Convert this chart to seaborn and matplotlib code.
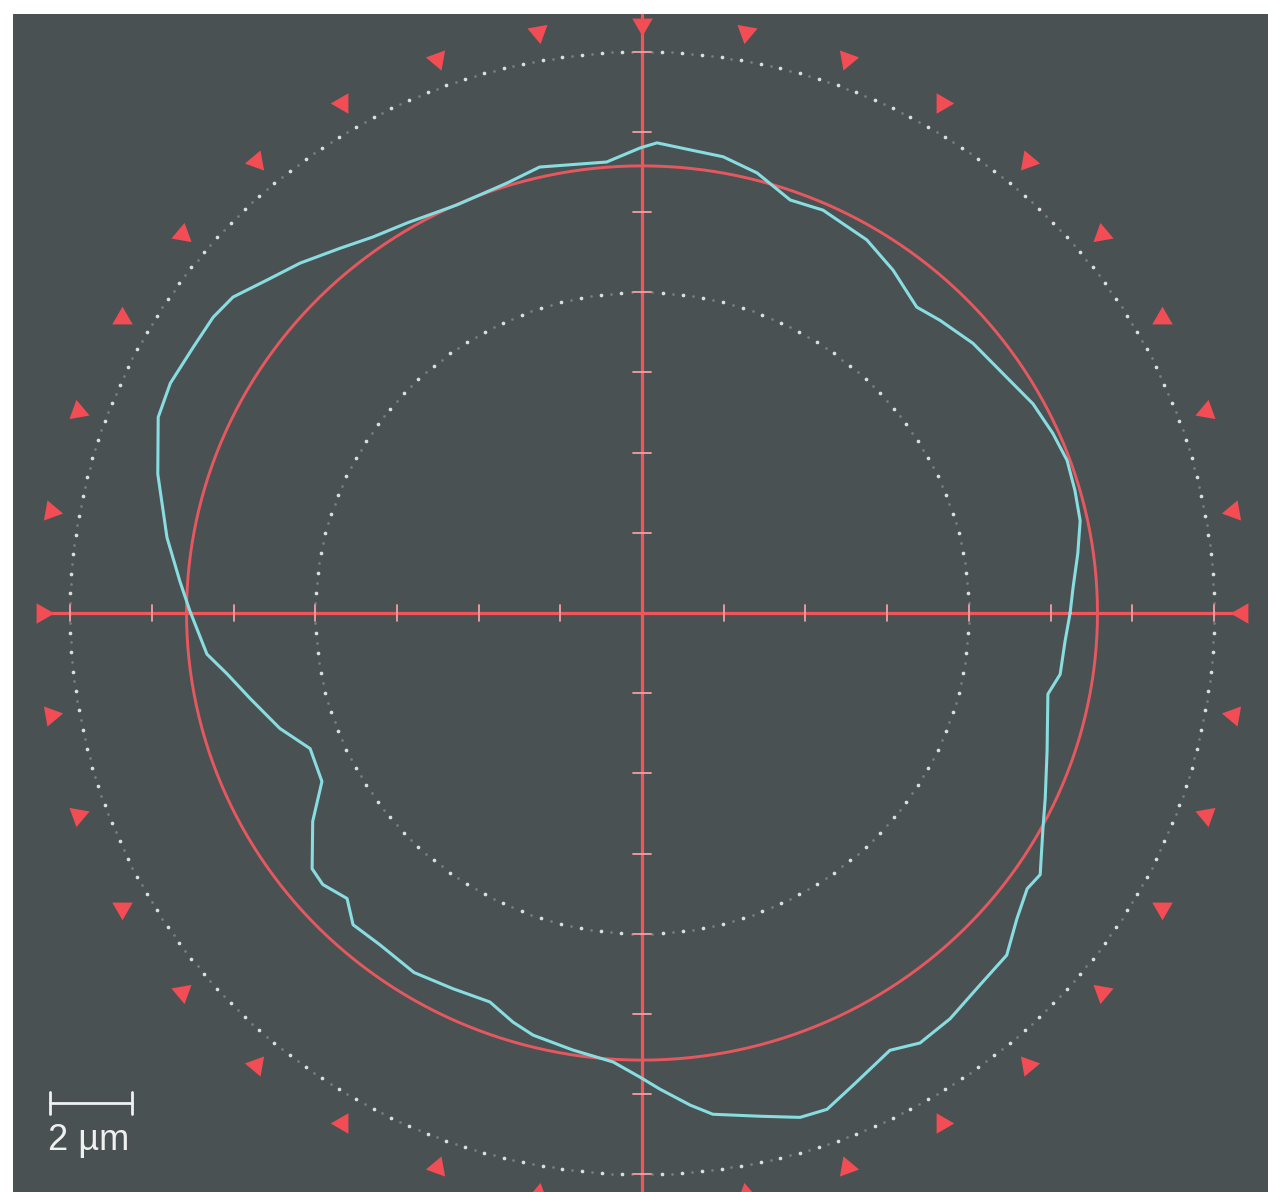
import numpy as np
import pandas as pd
import matplotlib
matplotlib.use('Agg')
import matplotlib.pyplot as plt
import seaborn as sns

sns.set_theme(style='dark')
plt.rcParams['font.family'] = ['Liberation Sans', 'DejaVu Sans']

# ---------------- data (µm, polar: angle in degrees, radius in µm) ----------------
profile_angle_deg = [0, 3.4, 7.9, 12.1, 16.1, 20.1, 24.0, 28.6, 33.3, 39.7,
                     45.0, 48.6, 54.3, 59.4, 66.2, 70.6, 75.6, 80.1, 84.2, 88.2,
                     90.2, 94.4, 102.7, 107.1, 114.0, 120.6, 125.1, 129.1, 133.8, 137.9,
                     141.8, 144.9, 148.9, 153.6, 157.6, 163.7, 170.8, 176.0, 179.7, 185.5,
                     188.5, 192.5, 198.0, 202.6, 208.2, 212.8, 218.3, 220.9, 224.6, 227.7,
                     232.2, 238.1, 243.7, 249.0, 252.8, 255.8, 261.2, 266.4, 269.8, 272.1,
                     275.5, 277.9, 283.0, 287.1, 290.1, 293.7, 299.1, 302.4, 306.7, 311.7,
                     316.3, 320.3, 323.9, 326.2, 331.3, 334.9, 340.8, 348.5, 351.5, 356.1]
profile_radius_um = [10.48, 10.57, 10.77, 10.97, 11.03, 11.08, 11.01, 10.90, 10.69, 10.53,
                     10.32, 10.17, 10.53, 10.81, 10.98, 10.92, 11.33, 11.55, 11.61, 11.73,
                     11.60, 11.28, 11.40, 11.22, 11.14, 11.30, 11.46, 11.72, 12.09, 12.38,
                     12.74, 12.83, 12.83, 12.89, 12.81, 12.35, 11.78, 11.34, 11.07, 10.70,
                     10.27, 9.83, 9.32, 8.80, 8.89, 9.59, 10.29, 10.34, 10.14, 10.51,
                     10.47, 10.56, 10.45, 10.39, 10.68, 10.86, 11.03, 11.22, 11.58, 11.88,
                     12.33, 12.62, 12.88, 13.16, 13.18, 12.86, 12.48, 12.70, 12.62, 12.43,
                     12.35, 11.93, 11.67, 11.73, 11.19, 10.90, 10.50, 10.14, 10.35, 10.38]

fit_circle_radius = 11.15          # reference (least squares) circle
grid_radii = [8, 14]               # dotted circles
grid_dot_count = [100, 180]
marker_radius = 14.7               # ring of red triangles
marker_angles = list(range(0, 360, 10))
tick_values = [v for v in range(-14, 15, 2) if v != 0]
scale_bar_um = 2
scale_label = '2 µm'

# colours
bg = '#4a5153'
red = '#f0555a'
fit_red = '#e6585f'
cyan = '#88dde0'
dot_col = '#dedede'

# ---------------- figure ----------------
W, H = 1268, 1192
fig = plt.figure(figsize=(W / 100, H / 100), dpi=100)
fig.patch.set_facecolor('white')
ax = fig.add_axes([13 / W, 0, (W - 13) / W, (H - 14) / H])
ax.set_facecolor(bg)
sx, sy = 40.85, 40.1   # px per µm
cx, cy = 642, 613
ax.set_xlim((13 - cx) / sx, (W - cx) / sx)
ax.set_ylim((cy - H) / sy, (cy - 14) / sy)
ax.set_axis_off()
ax.add_patch(plt.Rectangle((0, 0), 1, 1, transform=ax.transAxes, color=bg, zorder=0))

# dotted circles
for r, n in zip(grid_radii, grid_dot_count):
    t = np.deg2rad(np.arange(n) * 360 / n)
    sns.scatterplot(x=r * np.cos(t), y=r * np.sin(t), s=7, color=dot_col,
                    linewidth=0, ax=ax, zorder=2)
    t2 = t + np.pi / n
    sns.scatterplot(x=r * np.cos(t2), y=r * np.sin(t2), s=4, color=dot_col,
                    alpha=0.3, linewidth=0, ax=ax, zorder=2)

# crosshair
ax.plot([-marker_radius, marker_radius], [0, 0], color=red, lw=2.3, zorder=3)
ax.axvline(0, color=red, lw=2.3, zorder=3)
for v in tick_values:
    ax.plot([v, v], [-0.2, 0.2], color='#f2a0a4', lw=1.3, zorder=4)
    ax.plot([-0.22, 0.22], [v, v], color='#f2a0a4', lw=1.3, zorder=4)

# triangles pointing to the centre
for a in marker_angles:
    t = np.deg2rad(a)
    ax.plot(marker_radius * np.cos(t), marker_radius * np.sin(t),
            marker=(3, 0, a + 90), markersize=17, color='#f24d55',
            markeredgewidth=0, linestyle='none', zorder=5)

# reference circle
tt = np.linspace(0, 2 * np.pi, 721)
circ = pd.DataFrame({'x': fit_circle_radius * np.cos(tt), 'y': fit_circle_radius * np.sin(tt)})
sns.lineplot(data=circ, x='x', y='y', sort=False, estimator=None, color=fit_red,
             lw=2.1, ax=ax, zorder=6)

# measured profile
ang = np.deg2rad(profile_angle_deg + profile_angle_deg[:1])
rad = np.array(profile_radius_um + profile_radius_um[:1])
prof = pd.DataFrame({'x': rad * np.cos(ang), 'y': rad * np.sin(ang)})
sns.lineplot(data=prof, x='x', y='y', sort=False, estimator=None, color=cyan,
             lw=2.2, ax=ax, zorder=7)

# scale bar
x0 = (50 - cx) / sx
yb = (cy - 1103) / sy
ax.plot([x0, x0 + scale_bar_um], [yb, yb], color='#f0f0f0', lw=2, zorder=8)
for xe in (x0, x0 + scale_bar_um):
    ax.plot([xe, xe], [yb - 0.28, yb + 0.28], color='#f0f0f0', lw=2, zorder=8)
ax.text(x0 - 0.05, (cy - 1141) / sy, scale_label, color='#f0f0f0', fontsize=26,
        ha='left', va='center', zorder=8)

if ax.get_legend():
    ax.get_legend().remove()
fig.savefig('out.png', dpi=100, facecolor='white')
